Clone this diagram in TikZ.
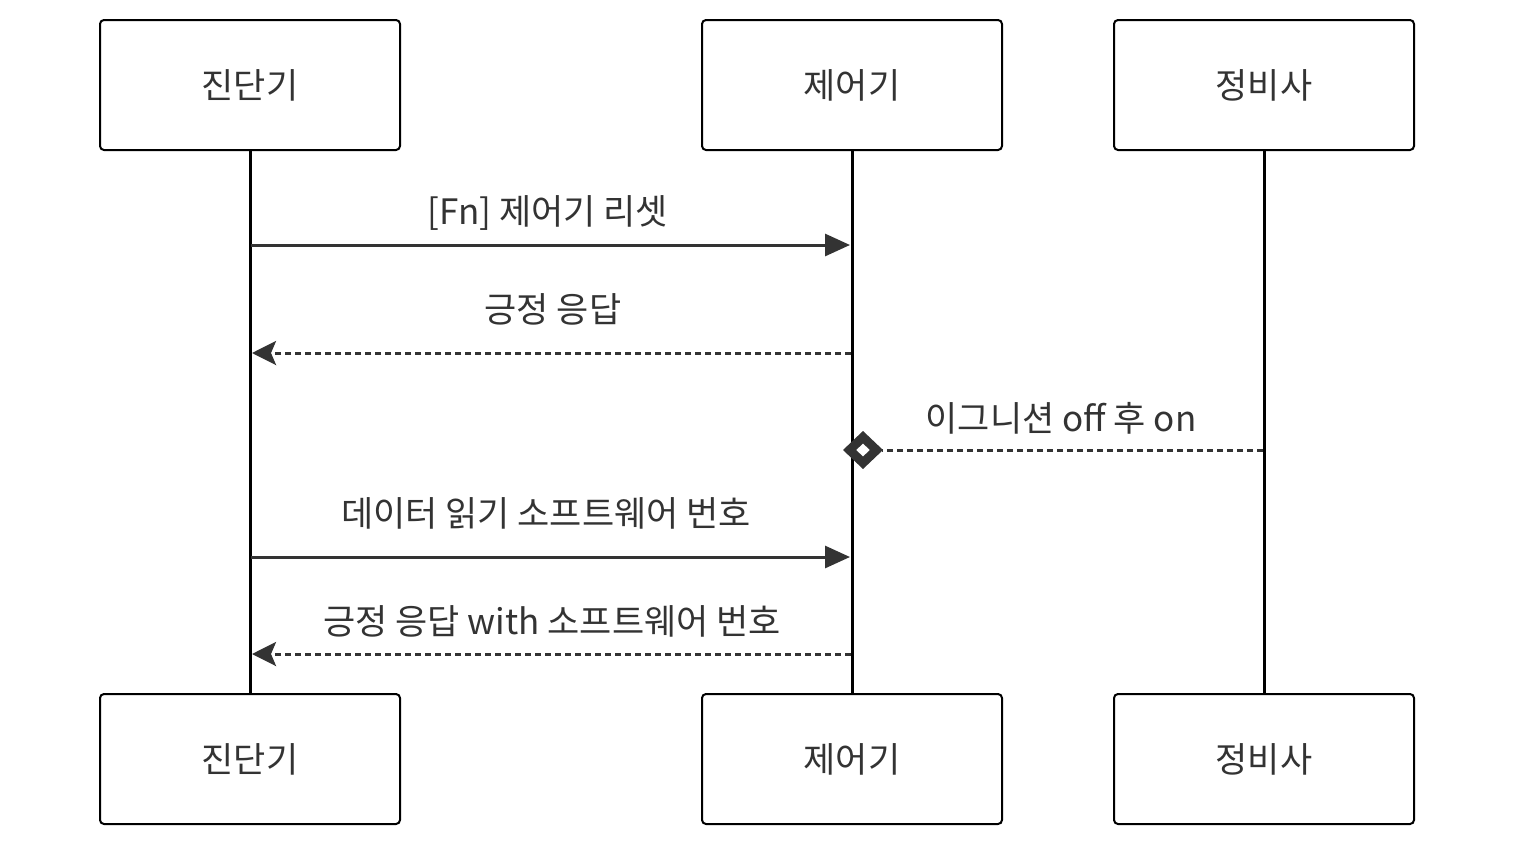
\documentclass[tikz,border=0pt]{standalone}
\usepackage{fontspec}
\setmainfont{Noto Sans CJK KR}
\usepackage{tikz}
\usetikzlibrary{positioning,arrows.meta,calc}
\usepackage{xcolor}
\definecolor{sqline}{RGB}{51,51,51}
\definecolor{sqtext}{RGB}{51,51,51}

\begin{document}
\begin{tikzpicture}[
  x=1pt, y=-1pt,
  font=\fontsize{35}{39}\selectfont,
  actor/.style={rectangle, rounded corners=4pt, draw=black, line width=2pt,
    fill=white, align=center, minimum width=300pt, minimum height=130pt,
    inner sep=0pt, text=sqtext},
  life/.style={line width=3pt, draw=black},
  msg/.style={-{Triangle[length=25pt,width=22pt]}, line width=3pt, draw=sqline},
  reply/.style={-{Stealth[length=24pt,width=24pt,inset=5pt]}, line width=3pt,
    draw=sqline, dash pattern=on 6pt off 4pt},
  note/.style={-{Diamond[open,length=40pt,width=38pt,line width=9pt]},
    line width=3pt, draw=sqline, dash pattern=on 6pt off 4pt},
  lbl/.style={text=sqtext, inner sep=0pt}
]
\useasboundingbox (0,0) rectangle (1514,846);

% participants
\node[actor] (diag) at (250,85) {진단기};
\node[actor] (ecu) at (852,85) {제어기};
\node[actor] (mech) at (1264,85) {정비사};
\node[actor] (diagB) at (250,759) {진단기};
\node[actor] (ecuB) at (852,759) {제어기};
\node[actor] (mechB) at (1264,759) {정비사};

% lifelines
\draw[life] (diag) -- (diagB);
\draw[life] (ecu) -- (ecuB);
\draw[life] (mech) -- (mechB);

% message end points
\coordinate (m1a) at (251,245);
\coordinate (m1b) at (850,245);
\coordinate (m2a) at (851,353);
\coordinate (m2b) at (252,353);
\coordinate (m3a) at (1263,450);
\coordinate (m3b) at (843,450);
\coordinate (m4a) at (251,557);
\coordinate (m4b) at (850,557);
\coordinate (m5a) at (851,654);
\coordinate (m5b) at (252,654);

\draw[msg] (m1a) -- (m1b);
\draw[reply] (m2a) -- (m2b);
\draw[note] (m3a) -- (m3b);
\draw[msg] (m4a) -- (m4b);
\draw[reply] (m5a) -- (m5b);

% labels
\node[lbl] (t1) at (548,213) {[Fn] 제어기 리셋};
\node[lbl] (t2) at (553,309) {긍정 응답};
\node[lbl] (t3) at (1061,418) {이그니션 off 후 on};
\node[lbl] (t4) at (546,513) {데이터 읽기 소프트웨어 번호};
\node[lbl] (t5) at (552,621) {긍정 응답 with 소프트웨어 번호};
\end{tikzpicture}
\end{document}
